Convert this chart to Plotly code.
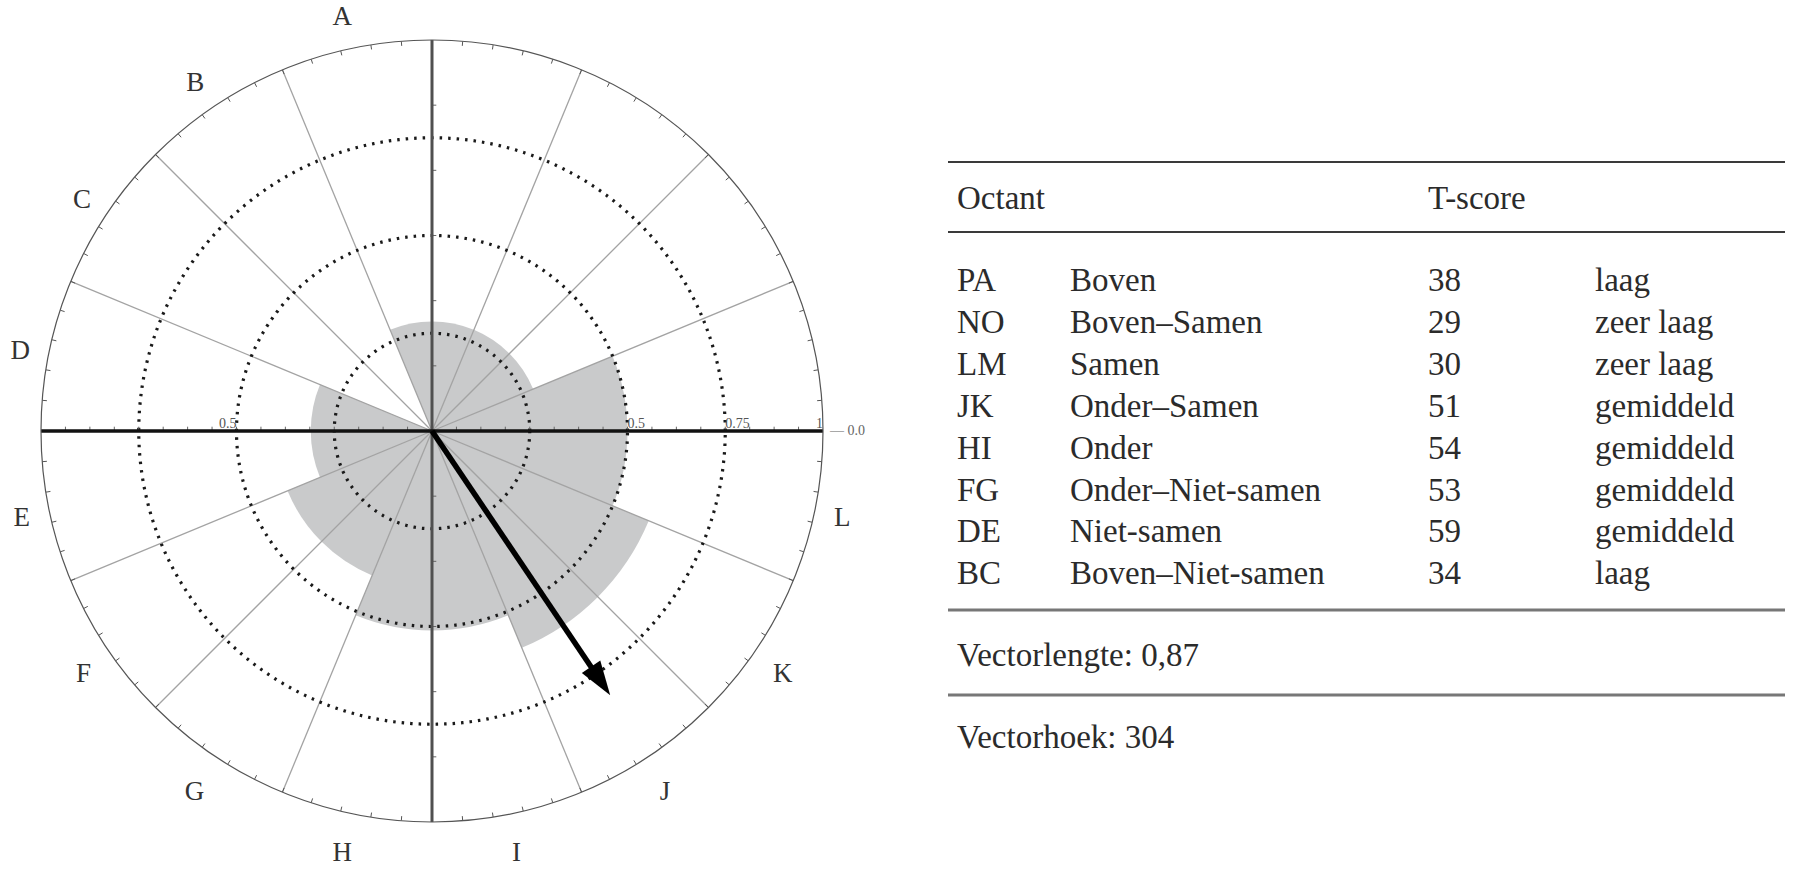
import math
import plotly.graph_objects as go

# ---------------- data ----------------
# circumplex letters (counter-clockwise from just left of the top)
letters = list("ABCDEFGHIJKLMNOP")
letter_theta = [101.25 + 22.5 * i for i in range(16)]

# shaded octant sectors (centre angle, radius)
sector_codes = ["PA", "NO", "LM", "JK", "HI", "FG", "DE", "BC"]
sector_theta = [90, 45, 0, 315, 270, 225, 180, 135]
sector_r = [0.28, 0.28, 0.50, 0.60, 0.51, 0.40, 0.31, 0.0]

# vector
vector_angle = 304
vector_tip_r = 0.815

# dotted rings and axis labels
ring_r = [0.25, 0.5, 0.75]
axis_label_r = [0.5, 0.75, 1.0]
axis_label_text = ["0.5", "0.75", "1"]

# table
octant_codes = ["PA", "NO", "LM", "JK", "HI", "FG", "DE", "BC"]
octant_names = ["Boven", "Boven\u2013Samen", "Samen", "Onder\u2013Samen", "Onder",
                "Onder\u2013Niet-samen", "Niet-samen", "Boven\u2013Niet-samen"]
t_scores = [38, 29, 30, 51, 54, 53, 59, 34]
t_levels = ["laag", "zeer laag", "zeer laag", "gemiddeld", "gemiddeld",
            "gemiddeld", "gemiddeld", "laag"]
vector_length_text = "Vectorlengte: 0,87"
vector_angle_text = "Vectorhoek: 304"

# ---------------- styling ----------------
W, H = 1800, 870
SERIF = "Liberation Serif"
FILL = "#c9cacb"
SPOKE = "#a3a3a3"
TXT = "#2b2b2b"

fig = go.Figure()

# shaded sectors
fig.add_trace(go.Barpolar(
    r=sector_r, theta=sector_theta, width=[45] * len(sector_r),
    marker=dict(color=FILL, line=dict(width=0)), hoverinfo="skip",
))

# spokes every 22.5 deg (except the main axes)
sp_r, sp_t = [], []
for k in range(16):
    t = 22.5 * k
    if t % 90 == 0:
        continue
    sp_r += [0, 1, None]
    sp_t += [t, t, None]
fig.add_trace(go.Scatterpolar(r=sp_r, theta=sp_t, mode="lines",
                              line=dict(color=SPOKE, width=1.3), hoverinfo="skip"))

# dotted rings
for rr in ring_r:
    th = [i * 0.5 for i in range(721)]
    fig.add_trace(go.Scatterpolar(r=[rr] * len(th), theta=th, mode="lines",
                                  line=dict(color="#1a1a1a", width=3.2, dash="2.5px,6px"),
                                  hoverinfo="skip"))

# outer ring ticks every 4.5 deg
ot_r, ot_t = [], []
for k in range(80):
    t = 4.5 * k
    ot_r += [0.988, 1.0, None]
    ot_t += [t, t, None]
fig.add_trace(go.Scatterpolar(r=ot_r, theta=ot_t, mode="lines",
                              line=dict(color="#555", width=1), hoverinfo="skip"))

# axis ticks: horizontal axis every 1/16 (upwards), vertical every 1/6 (to the right)
h = 0.011
ax_r, ax_t = [], []
for k in range(1, 16):
    for d in (k / 16, -k / 16):
        ax_r += [abs(d), math.hypot(d, h), None]
        ax_t += [0 if d > 0 else 180, math.degrees(math.atan2(h, d)), None]
for k in range(1, 6):
    for d in (k / 6, -k / 6):
        ax_r += [abs(d), math.hypot(d, h), None]
        ax_t += [90 if d > 0 else 270, math.degrees(math.atan2(d, h)), None]
fig.add_trace(go.Scatterpolar(r=ax_r, theta=ax_t, mode="lines",
                              line=dict(color="#666", width=1), hoverinfo="skip"))

# main axes
fig.add_trace(go.Scatterpolar(r=[1, 0, 1], theta=[90, 90, 270], mode="lines",
                              line=dict(color="#505050", width=3), hoverinfo="skip"))
fig.add_trace(go.Scatterpolar(r=[1, 0, 1], theta=[0, 0, 180], mode="lines",
                              line=dict(color="#111", width=3.5), hoverinfo="skip"))

# vector arrow
fig.add_trace(go.Scatterpolar(r=[0, vector_tip_r - 0.05], theta=[vector_angle, vector_angle],
                              mode="lines", line=dict(color="#000", width=5.5),
                              hoverinfo="skip"))
fig.add_trace(go.Scatterpolar(r=[vector_tip_r], theta=[vector_angle], mode="markers",
                              marker=dict(symbol="arrow", size=36, color="#000",
                                          angle=90 - vector_angle,
                                          line=dict(width=0)),
                              hoverinfo="skip"))

# axis value labels
fig.add_trace(go.Scatterpolar(
    r=axis_label_r[:2], theta=[0, 0], mode="text", text=axis_label_text[:2],
    textposition="top right", textfont=dict(family=SERIF, size=14, color="#555"),
    cliponaxis=False, hoverinfo="skip"))
fig.add_trace(go.Scatterpolar(
    r=[axis_label_r[2], axis_label_r[0]], theta=[0, 180], mode="text",
    text=[axis_label_text[2], axis_label_text[0]],
    textposition="top left", textfont=dict(family=SERIF, size=14, color="#555"),
    cliponaxis=False, hoverinfo="skip"))
fig.add_trace(go.Scatterpolar(
    r=[1.0], theta=[0], mode="text", text=["  \u2014 0.0"],
    textposition="middle right", textfont=dict(family=SERIF, size=14, color="#666"),
    cliponaxis=False, hoverinfo="skip"))

fig.update_layout(
    width=W, height=H,
    margin=dict(l=0, r=0, t=0, b=0),
    paper_bgcolor="white",
    showlegend=False,
    polar=dict(
        domain=dict(x=[41 / W, 823 / W], y=[48 / H, 830 / H]),
        bgcolor="rgba(0,0,0,0)",
        bargap=0,
        radialaxis=dict(range=[0, 1], visible=False),
        angularaxis=dict(
            rotation=0, direction="counterclockwise",
            tickmode="array", tickvals=letter_theta, ticktext=letters,
            ticks="outside", ticklen=13, tickcolor="rgba(0,0,0,0)",
            tickfont=dict(family=SERIF, size=27, color="#333"),
            showgrid=False, showline=True, linecolor="#555", linewidth=1.2,
        ),
    ),
)

# ---------------- table ----------------
def px_x(x):
    return x / W

def px_y(y):
    return 1 - y / H

x0, x1 = 948, 1785
rules = [(162, "#3a3a3a", 2), (232, "#3a3a3a", 2), (610, "#777", 3), (695, "#777", 3)]
for y, c, w in rules:
    fig.add_shape(type="line", xref="paper", yref="paper",
                  x0=px_x(x0), x1=px_x(x1), y0=px_y(y), y1=px_y(y),
                  line=dict(color=c, width=w))

FS = 33
def txt(x, y, s):
    fig.add_annotation(x=px_x(x), y=px_y(y), xref="paper", yref="paper", text=s,
                       showarrow=False, xanchor="left", yanchor="middle",
                       font=dict(family=SERIF, size=FS, color=TXT))

col_x = [955, 1068, 1426, 1593]
txt(col_x[0], 198, "Octant")
txt(col_x[2], 198, "T-score")
row0, dy = 280, 41.9
for i in range(len(octant_codes)):
    y = row0 + dy * i
    txt(col_x[0], y, octant_codes[i])
    txt(col_x[1], y, octant_names[i])
    txt(col_x[2], y, str(t_scores[i]))
    txt(col_x[3], y, t_levels[i])
txt(col_x[0], 655, vector_length_text)
txt(col_x[0], 737, vector_angle_text)

fig.write_html("out.html",
               config={"displayModeBar": False},
               post_script="document.body.style.margin='0px';"
                           "document.body.style.overflow='hidden';")
